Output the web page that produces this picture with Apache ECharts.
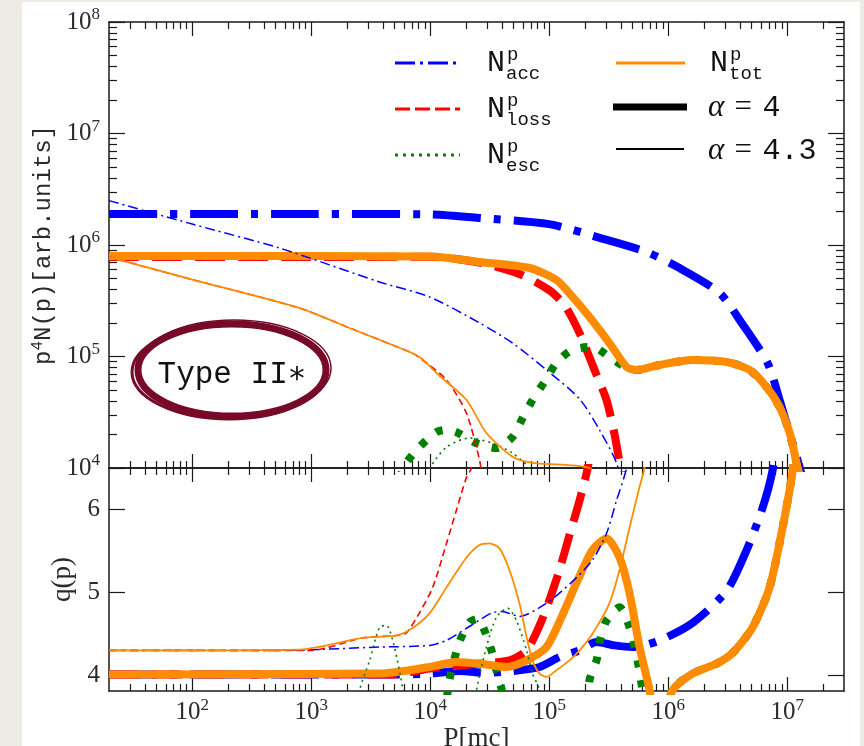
<!DOCTYPE html>
<html><head><meta charset="utf-8">
<script src="https://cdn.jsdelivr.net/npm/echarts@6/dist/echarts.min.js"></script>
<style>
html,body{margin:0;padding:0;background:#eeebe4;overflow:hidden;}
#paper{position:absolute;left:22px;top:2px;width:838px;height:744px;background:#fff;}
#chart{position:absolute;left:0;top:0;width:864px;height:746px;}
</style></head><body>
<div id="paper"></div><div id="chart"></div>
<script>
// ---------- tick labels ----------
const xMajorTicks = [1e2, 1e3, 1e4, 1e5, 1e6, 1e7];
const yTopMajorTicks = [1e4, 1e5, 1e6, 1e7, 1e8];
const qTicks = [4, 5, 6];

// ---------- top panel: p^4 N(p) ----------
// alpha = 4 (thick)
const accThick = [[20,1.9e6],[1e2,1.9e6],[1e3,1.9e6],[1e4,1.88e6],[2.6e4,1.75e6],[1e5,1.54e6],[2.65e5,1.16e6],[6.58e5,8.65e5],[1.2e6,6.35e5],[2.7e6,3.72e5],[4.14e6,2.0e5],[6.84e6,8.75e4],[8.63e6,4.07e4],[1.27e7,1.02e4],[1.4e7,7e3]];
const lossThick = [[20,7.8e5],[1e3,7.8e5],[1e4,7.85e5],[2.6e4,6.95e5],[5.62e4,5.5e5],[1.0e5,3.94e5],[1.35e5,2.88e5],[1.8e5,1.62e5],[2.4e5,7.6e4],[3.03e5,4.07e4],[3.54e5,2.0e4],[3.97e5,1.0e4],[4.3e5,6e3]];
const escThick = [[5.5e3,8e3],[6.3e3,1.11e4],[8.1e3,1.54e4],[1.13e4,2.1e4],[1.37e4,2.2e4],[1.66e4,2.1e4],[2.45e4,1.67e4],[3.6e4,1.51e4],[4.92e4,1.9e4],[5.97e4,2.8e4],[7.24e4,4.07e4],[9.1e4,5.9e4],[1.15e5,8.75e4],[1.54e5,1.14e5],[2.31e5,1.22e5],[3.21e5,9.9e4],[4.47e5,7.9e4],[5.42e5,7.57e4],[8.45e5,8.4e4],[1.6e6,9.31e4],[3.1e6,8.93e4],[4.83e6,7.57e4],[6.71e6,5.32e4],[8.63e6,3.52e4],[1.05e7,2.06e4],[1.22e7,1.02e4],[1.35e7,7e3]];
const totThick = [[20,7.95e5],[1e3,7.95e5],[1e4,7.9e5],[2.6e4,7.05e5],[6.84e4,6.22e5],[1.15e5,4.85e5],[1.57e5,3.42e5],[2.18e5,2.26e5],[3.21e5,1.32e5],[4.47e5,8.05e4],[5.42e5,7.57e4],[8.45e5,8.4e4],[1.6e6,9.31e4],[3.1e6,8.93e4],[4.83e6,7.57e4],[6.71e6,5.32e4],[8.63e6,3.52e4],[1.05e7,2.06e4],[1.22e7,1.02e4],[1.35e7,7e3]];
// alpha = 4.3 (thin)
const accThin = [[20,2.5e6],[1e2,1.54e6],[540,9.4e5],[3.75e3,4.66e5],[9.9e3,3.42e5],[2.6e4,2.0e5],[4.92e4,1.32e5],[9.5e4,7.57e4],[1.8e5,4.16e4],[2.65e5,2.19e4],[3.68e5,1.11e4],[4.2e5,6e3]];
const lossThin = [[20,7.8e5],[1e2,4.9e5],[800,2.72e5],[2.0e3,1.84e5],[7.1e3,1.07e5],[8.6e3,9.33e4],[1.37e4,6.17e4],[2.02e4,3.09e4],[2.6e4,1.17e4],[2.8e4,7e3]];
const escThin = [[8.5e3,7e3],[9.9e3,1.0e4],[1.37e4,1.54e4],[2.14e4,1.86e4],[3.33e4,1.67e4],[4.92e4,1.36e4],[6.8e4,1.0e4],[8e4,7e3]];
const totThin = [[20,7.8e5],[1e2,4.9e5],[800,2.72e5],[2.0e3,1.84e5],[7.1e3,1.07e5],[8.6e3,9.5e4],[1.13e4,7.11e4],[2.02e4,4.07e4],[2.97e4,2.06e4],[4.92e4,1.26e4],[7.24e4,1.11e4],[1.29e5,1.07e4],[2.18e5,1.0e4],[2.6e5,8e3]];

// ---------- bottom panel: q(p) ----------
const qAccThick = [[20,4.01],[1e3,4.01],[5e3,4.01],[9.9e3,4.02],[1.76e4,4.05],[2.97e4,4.03],[4.92e4,4.05],[8.3e4,4.10],[1.22e5,4.22],[1.8e5,4.30],[2.5e5,4.40],[3.54e5,4.36],[5.0e5,4.34],[8.45e5,4.42],[1.6e6,4.63],[3.1e6,5.02],[4.56e6,5.51],[6.21e6,6.02],[7.53e6,6.47],[8.5e6,7.0]];
const qLossThick = [[20,4.01],[5e3,4.01],[9.9e3,4.08],[2.14e4,4.13],[4.63e4,4.18],[6.46e4,4.30],[8.3e4,4.60],[1.0e5,4.90],[1.22e5,5.27],[1.48e5,5.69],[1.8e5,6.11],[2.1e5,6.49],[2.4e5,7.0]];
const qEscThick = [[1.2e4,3.0],[1.45e4,3.94],[1.76e4,4.40],[2.14e4,4.64],[2.5e4,4.68],[2.86e4,4.54],[3.27e4,4.30],[3.6e4,4.06],[3.97e4,3.84],[5e4,3.0],[1.8e5,3.0],[2.18e5,3.94],[2.5e5,4.18],[2.65e5,4.40],[3.03e5,4.66],[3.9e5,4.82],[4.73e5,4.58],[5.52e5,4.18],[6.08e5,3.82],[7.5e5,3.0],[1.09e6,3.82],[1.6e6,4.02],[2.55e6,4.14],[3.48e6,4.27],[5.12e6,4.58],[7.11e6,5.06],[9.14e6,5.78],[1.11e7,6.47],[1.2e7,7.2]];
const qTotThick = [[20,4.01],[3.75e3,4.02],[9.9e3,4.10],[1.66e4,4.16],[2.97e4,4.13],[4.38e4,4.10],[6.46e4,4.18],[9.5e4,4.34],[1.25e5,4.68],[1.69e5,5.11],[2.31e5,5.51],[3.03e5,5.65],[3.9e5,5.42],[4.73e5,4.99],[5.74e5,4.34],[6.97e5,3.82],[8.0e5,3.3],[1.09e6,3.82],[1.6e6,4.02],[2.55e6,4.14],[3.48e6,4.27],[5.12e6,4.58],[7.11e6,5.06],[9.14e6,5.78],[1.11e7,6.47],[1.2e7,7.2]];
const qAccThin = [[20,4.30],[540,4.30],[3.75e3,4.34],[9.9e3,4.36],[1.37e4,4.42],[2.2e4,4.60],[3.27e4,4.75],[4.0e4,4.77],[5.62e4,4.71],[9.5e4,4.87],[1.54e5,5.12],[2.31e5,5.39],[3.03e5,5.71],[3.68e5,6.11],[4.47e5,6.5],[5e5,7.0]];
const qLossThin = [[20,4.30],[1e3,4.30],[2.7e3,4.45],[5.2e3,4.48],[6.3e3,4.51],[8.1e3,4.75],[1.05e4,5.06],[1.37e4,5.59],[1.66e4,5.99],[2.02e4,6.39],[2.22e4,6.5],[2.5e4,7.0]];
const qEscThin = [[2.0e3,3.0],[2.55e3,3.82],[3.1e3,4.18],[3.75e3,4.58],[4.3e3,4.60],[5.0e3,4.34],[5.85e3,3.86],[7.5e3,3.0],[2.0e4,3.0],[2.45e4,3.82],[2.97e4,4.34],[3.6e4,4.70],[4.47e4,4.81],[5.3e4,4.66],[6.46e4,4.30],[7.24e4,4.02],[8.3e4,3.82],[1.0e5,3.0]];
const qTotThin = [[20,4.30],[800,4.31],[2.7e3,4.45],[5.2e3,4.48],[7.1e3,4.57],[9.9e3,4.75],[1.37e4,5.06],[2.02e4,5.42],[2.6e4,5.57],[3.15e4,5.59],[3.82e4,5.53],[4.63e4,5.27],[5.62e4,4.87],[6.46e4,4.46],[7.24e4,4.18],[8.3e4,4.02],[9.5e4,3.98],[1.15e5,4.06],[1.48e5,4.18],[1.8e5,4.30],[2.31e5,4.50],[3.21e5,4.87],[3.9e5,5.27],[4.73e5,5.78],[5.74e5,6.27],[6.32e5,6.5],[7e5,7.0]];

// ---------- styling ----------
const SERIF = '"Liberation Serif","DejaVu Serif",serif';
const MONO = '"Liberation Mono","DejaVu Sans Mono",monospace';
const AX = '#1a1a1a', TXT = '#2a2a2a';
const BLUE = '#0000ff', RED = '#ff0000', GREEN = '#007f00', ORANGE = '#ff8c00';

const xMinorTicks = [], yMinorTicks = [];
[10,1e2,1e3,1e4,1e5,1e6,1e7].forEach(d => { for (let k = 2; k <= 9; k++) { const v = k*d; if (v > 20 && v < 3e7) xMinorTicks.push(v); } });
[1e4,1e5,1e6,1e7].forEach(d => { for (let k = 2; k <= 9; k++) yMinorTicks.push(k*d); });

function powLabel(v) {
  const e = Math.log10(v), r = Math.round(e);
  if (Math.abs(e - r) > 1e-6) return '';
  return '{b|10}{s|' + r + '}';
}
const powRich = {
  b: {fontFamily: SERIF, fontSize: 25, color: TXT},
  s: {fontFamily: SERIF, fontSize: 17, color: TXT, padding: [0, 0, 14, 0]}
};

function xAx(grid, pos, minor, labels) {
  return {
    type: 'log', logBase: 10, gridIndex: grid, position: pos, min: 20, max: 3e7,
    axisLine: {show: !minor, lineStyle: {color: AX, width: 1.5}},
    axisTick: {show: true, inside: true, length: minor ? 7 : 14, lineStyle: {color: AX, width: 1.2},
               customValues: minor ? xMinorTicks : xMajorTicks},
    axisLabel: labels ? {show: true, customValues: xMajorTicks, formatter: powLabel, rich: powRich, margin: 6} : {show: false},
    splitLine: {show: false}, minorTick: {show: false}
  };
}
function yLogAx(pos, minor, labels) {
  return {
    type: 'log', logBase: 10, gridIndex: 0, position: pos, min: 1e4, max: 1e8,
    axisLine: {show: !minor, lineStyle: {color: AX, width: 1.5}},
    axisTick: {show: true, inside: true, length: minor ? 8 : 16, lineStyle: {color: AX, width: 1.2},
               customValues: minor ? yMinorTicks : yTopMajorTicks},
    axisLabel: labels ? {show: true, customValues: yTopMajorTicks, formatter: powLabel, rich: powRich, margin: 9} : {show: false},
    splitLine: {show: false}
  };
}
function yQAx(pos, labels) {
  return {
    type: 'value', gridIndex: 1, position: pos, min: 3.81, max: 6.5,
    axisLine: {show: true, lineStyle: {color: AX, width: 1.5}},
    axisTick: {show: true, inside: true, length: 16, lineStyle: {color: AX, width: 1.2}, customValues: qTicks},
    axisLabel: labels ? {show: true, customValues: qTicks, formatter: v => String(v), fontFamily: SERIF, fontSize: 25, color: TXT, margin: 9} : {show: false},
    splitLine: {show: false}
  };
}

const xAxes = [
  xAx(0, 'bottom', false, false), xAx(0, 'top', false, false), xAx(0, 'bottom', true, false), xAx(0, 'top', true, false),
  xAx(1, 'bottom', false, true), xAx(1, 'top', false, false), xAx(1, 'bottom', true, false), xAx(1, 'top', true, false)
];
Object.assign(xAxes[4], {name: 'P[mc]', nameLocation: 'middle', nameGap: 34,
  nameTextStyle: {fontFamily: SERIF, fontSize: 27, color: TXT}});
const yAxes = [
  yLogAx('left', false, true), yLogAx('right', false, false), yLogAx('left', true, false), yLogAx('right', true, false),
  yQAx('left', true), yQAx('right', false)
];
Object.assign(yAxes[0], {name: '{m|p}{s|4}{m|N(p)[arb.units]}', nameLocation: 'middle', nameGap: 47, nameRotate: 90,
  nameTextStyle: {rich: {m: {fontFamily: MONO, fontSize: 24, color: TXT}, s: {fontFamily: MONO, fontSize: 16, color: TXT, padding: [0, 0, 12, 0]}}}});
Object.assign(yAxes[4], {name: 'q(p)', nameLocation: 'middle', nameGap: 26, nameRotate: 90,
  nameTextStyle: {fontFamily: SERIF, fontSize: 27, color: TXT}});

function ln(data, panel, color, width, dash, z) {
  return {
    type: 'line', data: data, xAxisIndex: panel === 0 ? 0 : 4, yAxisIndex: panel === 0 ? 0 : 4,
    showSymbol: false, symbol: 'none', smooth: 0.25, clip: true, silent: true, z: z,
    lineStyle: {color: color, width: width, type: dash || 'solid', cap: 'butt', join: 'round'}
  };
}
const DD_THICK = [48, 13, 7, 13], DA_THICK = [30, 13], DO_THICK = [7, 13];
const DD_THIN = [10, 4, 2, 4], DA_THIN = [7, 4], DO_THIN = [2, 4];

const series = [
  ln(accThick, 0, BLUE, 8, DD_THICK, 2), ln(lossThick, 0, RED, 8, DA_THICK, 2), ln(escThick, 0, GREEN, 8, DO_THICK, 2), ln(totThick, 0, ORANGE, 8, null, 3),
  ln(accThin, 0, BLUE, 1.5, DD_THIN, 4), ln(lossThin, 0, RED, 1.6, DA_THIN, 4), ln(escThin, 0, GREEN, 1.6, DO_THIN, 4), ln(totThin, 0, ORANGE, 1.8, null, 4),
  ln(qAccThick, 1, BLUE, 8, DD_THICK, 2), ln(qLossThick, 1, RED, 8, DA_THICK, 2), ln(qEscThick, 1, GREEN, 8, DO_THICK, 2), ln(qTotThick, 1, ORANGE, 8, null, 3),
  ln(qAccThin, 1, BLUE, 1.5, DD_THIN, 4), ln(qLossThin, 1, RED, 1.6, DA_THIN, 4), ln(qEscThin, 1, GREEN, 1.6, DO_THIN, 4), ln(qTotThin, 1, ORANGE, 1.8, null, 4)
];

// ---------- legend & annotation (decoration) ----------
function T(text, x, y, font, size, extra) {
  return Object.assign({type: 'text', z: 10, style: {text: text, x: x, y: y, fontFamily: font, fontSize: size, fill: '#111',
    align: 'left', verticalAlign: 'middle', textAlign: 'left', textVerticalAlign: 'middle'}}, extra || {});
}
function Nlab(x, y, sub) {
  return [T('N', x, y, MONO, 30), T('p', x + 20, y - 8, MONO, 19), T(sub, x + 19, y + 11, MONO, 19)];
}
function L(x1, x2, y, color, w, dash) {
  return {type: 'line', z: 10, shape: {x1: x1, y1: y, x2: x2, y2: y}, style: {stroke: color, lineWidth: w, lineDash: dash || null}};
}
const alphaRich = {
  a: {fontFamily: SERIF, fontStyle: 'italic', fontSize: 31, fill: '#111', color: '#111'},
  e: {fontFamily: SERIF, fontSize: 31, fill: '#111', color: '#111'},
  n: {fontFamily: MONO, fontSize: 30, fill: '#111', color: '#111'}
};
const graphic = [
  L(395, 460, 63, BLUE, 3, [20, 5, 3, 5]), L(395, 460, 109, RED, 3, [15, 5]), L(395, 460, 155, GREEN, 3, [3, 5]),
  L(616, 685, 63, ORANGE, 3), L(613, 687, 107, '#000', 7), L(616, 684, 149, '#000', 2),
  ...Nlab(487, 63, 'acc'), ...Nlab(487, 109, 'loss'), ...Nlab(487, 155, 'esc'), ...Nlab(710, 63, 'tot'),
  {type: 'text', z: 10, style: {x: 708, y: 108, text: '{a|α}{e|\u2004=\u2004}{n|4}', verticalAlign: 'middle', textVerticalAlign: 'middle', rich: alphaRich}},
  {type: 'text', z: 10, style: {x: 708, y: 151, text: '{a|α}{e|\u2004=\u2004}{n|4.3}', verticalAlign: 'middle', textVerticalAlign: 'middle', rich: alphaRich}},
  // Type II* stamp
  {type: 'ellipse', z: 9, shape: {cx: 232, cy: 370, rx: 94, ry: 46}, style: {fill: 'none', stroke: '#760a28', lineWidth: 7}},
  {type: 'ellipse', z: 9, shape: {cx: 229, cy: 372, rx: 97, ry: 47}, style: {fill: 'none', stroke: '#760a28', lineWidth: 3}},
  {type: 'ellipse', z: 9, shape: {cx: 234, cy: 368, rx: 97, ry: 48}, style: {fill: 'none', stroke: '#760a28', lineWidth: 1.5}},
  {type: 'text', z: 10, style: {x: 232, y: 375, text: 'Type II∗', fontFamily: MONO, fontSize: 31, fill: '#111',
    align: 'center', verticalAlign: 'middle', textAlign: 'center', textVerticalAlign: 'middle'}}
];

const chart = echarts.init(document.getElementById('chart'), null, {renderer: 'canvas'});
chart.setOption({
  animation: false,
  backgroundColor: 'transparent',
  grid: [
    {left: 109, top: 22, width: 735, height: 446, containLabel: false, outerBoundsMode: 'none'},
    {left: 109, top: 468, width: 735, height: 223, containLabel: false, outerBoundsMode: 'none'}
  ],
  xAxis: xAxes, yAxis: yAxes, series: series, graphic: graphic
});
</script>
</body></html>
